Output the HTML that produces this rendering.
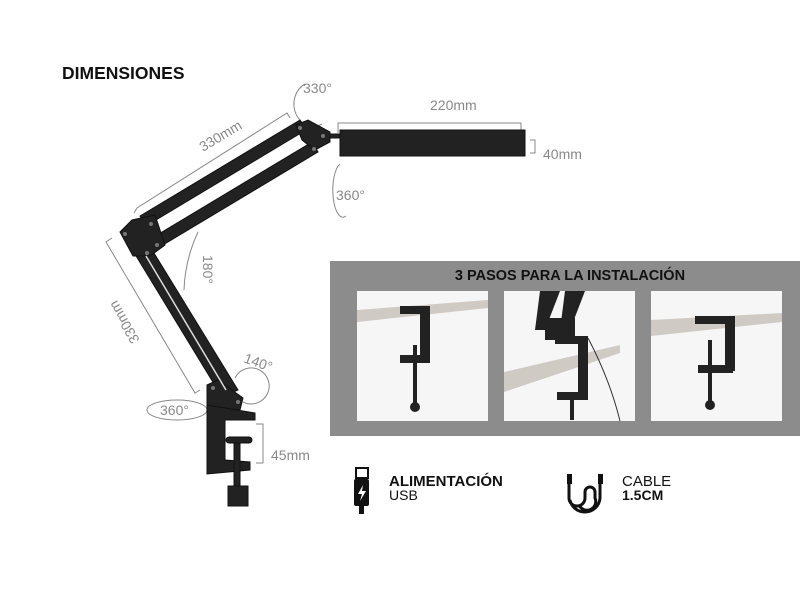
<!DOCTYPE html>
<html><head><meta charset="utf-8"><style>
body{margin:0;background:#fff;width:800px;height:600px;overflow:hidden;font-family:"Liberation Sans",sans-serif}
</style></head><body>
<svg width="800" height="600" xmlns="http://www.w3.org/2000/svg" font-family="Liberation Sans, sans-serif">
<rect width="800" height="600" fill="#fff"/>
<text x="62" y="79" font-size="17.5" font-weight="bold" fill="#111">DIMENSIONES</text>

<!-- dimension lines -->
<g stroke="#888" stroke-width="1" fill="none">
<polyline points="134,213 137,208 287,113 290,118"/>
<polyline points="112,238 106,242 195,393 200,390"/>
<polyline points="338,133 338,123 521,123 521,133"/>
<polyline points="530,140 535,140 535,153 530,153"/>
<polyline points="256,424 263,424 263,463 256,463"/>
<path d="M305,84 A15,17 0 1 0 322,124"/>
<path d="M340,164 A9,24 0 1 0 346,216"/>
<path d="M198,232 Q185,260 184,290"/>
<path d="M235,378 A18,18 0 1 1 243,402"/>
<ellipse cx="177" cy="410" rx="30" ry="10"/>
</g>
<g fill="#888" font-size="14">
<text x="303" y="93">330°</text>
<text x="336" y="200">360°</text>
<text x="160" y="415">360°</text>
<text x="243" y="362" transform="rotate(20 243 362)">140°</text>
<text x="203" y="255" transform="rotate(90 203 255)">180°</text>
<text x="203" y="152" transform="rotate(-31 203 152)">330mm</text>
<text x="140" y="340" transform="rotate(-120 140 340)">330mm</text>
<text x="430" y="110">220mm</text>
<text x="543" y="159">40mm</text>
<text x="271" y="460">45mm</text>
</g>

<!-- lamp -->
<g fill="#222" stroke="#111">
<polygon points="140,216 300,120 306,130 146,226"/>
<polygon points="152,238 312,142 318,152 158,248"/>
<polygon points="130,246 146,240 238,390 222,397"/>
<polygon points="120,232 132,220 155,215 165,245 150,256 133,256"/>
<polygon points="296,125 308,120 330,132 330,142 315,150 302,140"/>
<rect x="340" y="130" width="185" height="26"/>
<rect x="330" y="134" width="10" height="4"/>
<polygon points="207,385 218,380 243,398 240,410 207,408"/>
<polygon points="207,405 255,413 255,420 225,420 225,460 250,462 250,470 207,474"/>
<rect x="226" y="437" width="26" height="6" rx="3"/>
<rect x="234" y="443" width="6" height="45"/>
<rect x="228" y="486" width="20" height="20"/>
</g>
<line x1="146" y1="256" x2="226" y2="390" stroke="#ddd" stroke-width="1.5"/>
<g fill="#777"><circle cx="125" cy="234" r="2"/><circle cx="151" cy="224" r="2"/><circle cx="157" cy="245" r="2"/><circle cx="147" cy="253" r="2"/><circle cx="300" cy="128" r="2"/><circle cx="323" cy="136" r="2"/><circle cx="314" cy="149" r="2"/><circle cx="213" cy="388" r="2"/><circle cx="238" cy="402" r="2"/></g>

<!-- panel -->
<rect x="330" y="261" width="470" height="175" fill="#8c8c8c"/>
<text x="570" y="280" font-size="14.5" font-weight="bold" fill="#111" text-anchor="middle">3 PASOS PARA LA INSTALACIÓN</text>
<rect x="357" y="291" width="131" height="130" fill="#f6f6f6"/>
<rect x="504" y="291" width="131" height="130" fill="#f6f6f6"/>
<rect x="651" y="291" width="131" height="130" fill="#f6f6f6"/>
<g fill="#cfcac4"><polygon points="357,310 488,300 488,308 357,322"/><polygon points="504,372 620,345 620,353 504,392"/><polygon points="651,320 782,313 782,322 651,336"/></g>
<g fill="#222">
<rect x="400" y="306" width="20" height="8"/><rect x="420" y="306" width="10" height="55"/><rect x="400" y="355" width="30" height="8"/><rect x="413" y="345" width="4" height="62"/><circle cx="415" cy="407" r="5"/>
<rect x="555" y="336" width="30" height="8"/><rect x="578" y="336" width="10" height="62"/><rect x="557" y="392" width="31" height="8"/><rect x="570" y="395" width="4" height="25"/>
<polygon points="540,291 560,291 545,330 535,330"/><polygon points="565,291 585,291 570,330 560,330"/>
<rect x="545" y="318" width="30" height="22"/>
<rect x="695" y="316" width="30" height="8"/><rect x="725" y="316" width="10" height="55"/><rect x="698" y="365" width="35" height="8"/><rect x="708" y="340" width="4" height="65"/><circle cx="710" cy="405" r="5"/>
</g>
<path d="M588,338 Q610,380 620,421" stroke="#333" fill="none"/>

<!-- bottom icons -->
<g fill="#111">
<rect x="356" y="468" width="12" height="10" fill="none" stroke="#111" stroke-width="2"/>
<rect x="354" y="479" width="15" height="27" rx="2"/>
<rect x="359" y="506" width="5" height="8"/>
<polygon points="363,485 358,494 362,494 360,501 366,491 362,491" fill="#fff"/>
<rect x="567" y="474" width="5" height="10"/><rect x="598" y="474" width="5" height="10"/>
</g>
<path d="M569,484 V498 A8,8 0 0 0 585,498 V492 A5,5 0 0 1 595,492 V498 A8,8 0 0 1 579,505 M600,484 V498 A15,15 0 0 1 585,512 A15,15 0 0 1 570,500" stroke="#111" stroke-width="3" fill="none"/>
<text x="389" y="486" font-size="15" font-weight="bold" fill="#111">ALIMENTACIÓN</text>
<text x="389" y="500" font-size="14" fill="#111">USB</text>
<text x="622" y="486" font-size="15" fill="#111">CABLE</text>
<text x="622" y="500" font-size="14" font-weight="bold" fill="#111">1.5CM</text>
</svg>
</body></html>
